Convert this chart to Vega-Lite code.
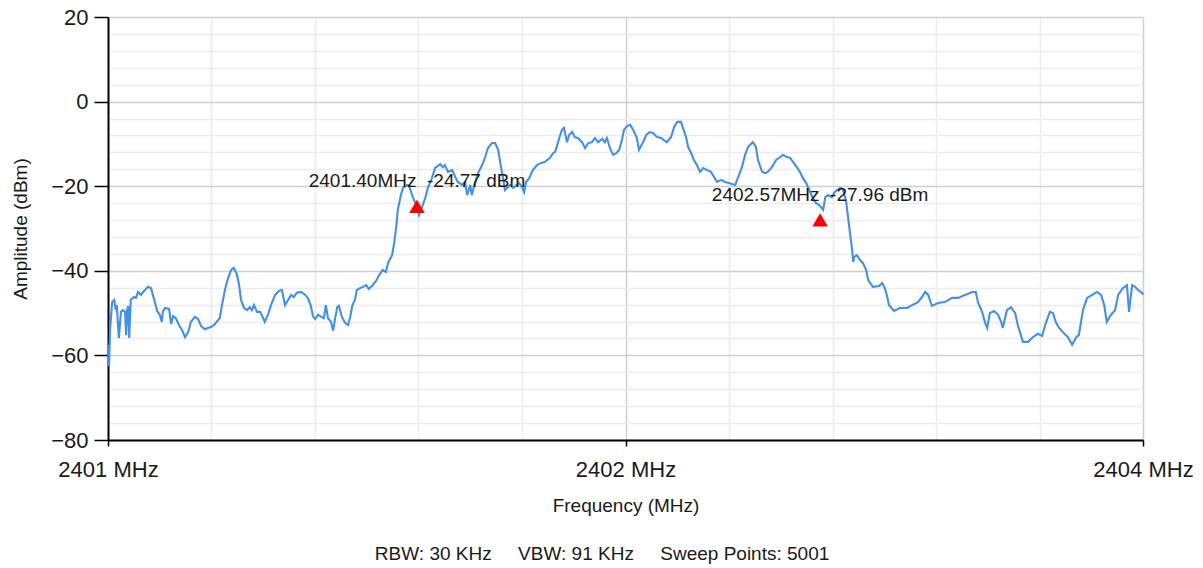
{
  "$schema": "https://vega.github.io/schema/vega-lite/v6.json",
  "width": 1035,
  "height": 423,
  "autosize": {"type": "none"},
  "padding": {"left": 108, "top": 17, "right": 60, "bottom": 128},
  "background": "white",
  "config": {
    "view": {"stroke": null},
    "font": "Liberation Sans"
  },
  "title": {
    "text": "RBW: 30 KHz\u00a0\u00a0\u00a0\u00a0\u00a0VBW: 91 KHz\u00a0\u00a0\u00a0\u00a0\u00a0Sweep Points: 5001",
    "orient": "bottom",
    "anchor": "middle",
    "frame": "bounds",
    "font": "Liberation Sans",
    "fontSize": 19,
    "fontWeight": "normal",
    "color": "#1a1a1a",
    "offset": 30
  },
  "datasets": {
    "trace": [
      {"f":2401.000,"a":-57.5},{"f":2401.002,"a":-62.5},{"f":2401.004,"a":-54.0},{"f":2401.008,"a":-47.4},{"f":2401.012,"a":-46.9},
      {"f":2401.015,"a":-49.3},{"f":2401.017,"a":-48.1},{"f":2401.021,"a":-55.9},{"f":2401.025,"a":-49.7},{"f":2401.029,"a":-49.3},
      {"f":2401.033,"a":-49.7},{"f":2401.035,"a":-55.2},{"f":2401.037,"a":-49.3},{"f":2401.039,"a":-48.3},{"f":2401.041,"a":-55.9},
      {"f":2401.044,"a":-46.9},{"f":2401.050,"a":-46.2},{"f":2401.054,"a":-46.4},{"f":2401.058,"a":-45.0},{"f":2401.064,"a":-45.7},
      {"f":2401.068,"a":-45.0},{"f":2401.072,"a":-44.5},{"f":2401.077,"a":-43.8},{"f":2401.083,"a":-44.1},{"f":2401.089,"a":-46.7},
      {"f":2401.095,"a":-49.5},{"f":2401.100,"a":-50.4},{"f":2401.104,"a":-52.1},{"f":2401.106,"a":-49.7},{"f":2401.110,"a":-48.8},
      {"f":2401.118,"a":-49.0},{"f":2401.122,"a":-52.6},{"f":2401.126,"a":-50.7},{"f":2401.131,"a":-51.2},{"f":2401.137,"a":-52.8},
      {"f":2401.143,"a":-54.0},{"f":2401.149,"a":-55.7},{"f":2401.155,"a":-54.5},{"f":2401.160,"a":-52.1},{"f":2401.168,"a":-50.9},
      {"f":2401.174,"a":-51.4},{"f":2401.180,"a":-53.1},{"f":2401.187,"a":-53.8},{"f":2401.193,"a":-53.5},{"f":2401.199,"a":-53.3},
      {"f":2401.205,"a":-52.8},{"f":2401.211,"a":-51.9},{"f":2401.216,"a":-51.2},{"f":2401.220,"a":-48.3},{"f":2401.226,"a":-44.5},
      {"f":2401.232,"a":-41.7},{"f":2401.238,"a":-39.8},{"f":2401.243,"a":-39.3},{"f":2401.249,"a":-40.8},{"f":2401.253,"a":-43.1},
      {"f":2401.257,"a":-46.9},{"f":2401.263,"a":-48.8},{"f":2401.269,"a":-49.3},{"f":2401.274,"a":-48.6},{"f":2401.278,"a":-49.3},
      {"f":2401.282,"a":-48.1},{"f":2401.288,"a":-49.7},{"f":2401.294,"a":-49.7},{"f":2401.298,"a":-50.7},{"f":2401.303,"a":-52.1},
      {"f":2401.309,"a":-50.4},{"f":2401.315,"a":-48.1},{"f":2401.323,"a":-45.7},{"f":2401.330,"a":-44.8},{"f":2401.336,"a":-44.5},
      {"f":2401.342,"a":-48.1},{"f":2401.348,"a":-46.9},{"f":2401.354,"a":-45.7},{"f":2401.359,"a":-46.2},{"f":2401.365,"a":-45.2},
      {"f":2401.373,"a":-45.0},{"f":2401.381,"a":-45.7},{"f":2401.386,"a":-46.4},{"f":2401.392,"a":-48.3},{"f":2401.396,"a":-50.7},
      {"f":2401.400,"a":-51.4},{"f":2401.406,"a":-50.4},{"f":2401.412,"a":-50.9},{"f":2401.417,"a":-51.2},{"f":2401.421,"a":-48.1},
      {"f":2401.425,"a":-51.2},{"f":2401.431,"a":-52.1},{"f":2401.435,"a":-54.2},{"f":2401.439,"a":-51.2},{"f":2401.443,"a":-48.6},
      {"f":2401.446,"a":-48.3},{"f":2401.452,"a":-50.9},{"f":2401.458,"a":-52.3},{"f":2401.464,"a":-52.8},{"f":2401.468,"a":-50.9},
      {"f":2401.472,"a":-48.3},{"f":2401.477,"a":-46.9},{"f":2401.481,"a":-44.5},{"f":2401.487,"a":-44.1},{"f":2401.493,"a":-43.8},
      {"f":2401.499,"a":-43.4},{"f":2401.504,"a":-44.3},{"f":2401.510,"a":-43.6},{"f":2401.518,"a":-42.4},{"f":2401.524,"a":-41.0},
      {"f":2401.531,"a":-39.8},{"f":2401.537,"a":-40.3},{"f":2401.541,"a":-38.2},{"f":2401.549,"a":-36.3},{"f":2401.553,"a":-33.4},
      {"f":2401.557,"a":-29.6},{"f":2401.560,"a":-25.6},{"f":2401.566,"a":-22.1},{"f":2401.570,"a":-20.4},{"f":2401.578,"a":-19.7},
      {"f":2401.582,"a":-20.0},{"f":2401.589,"a":-22.6},{"f":2401.597,"a":-24.9},{"f":2401.601,"a":-26.8},{"f":2401.607,"a":-24.9},
      {"f":2401.613,"a":-22.8},{"f":2401.618,"a":-20.4},{"f":2401.626,"a":-18.1},{"f":2401.632,"a":-15.7},{"f":2401.642,"a":-14.8},
      {"f":2401.647,"a":-15.5},{"f":2401.651,"a":-15.0},{"f":2401.657,"a":-16.6},{"f":2401.665,"a":-16.2},{"f":2401.671,"a":-17.8},
      {"f":2401.676,"a":-19.0},{"f":2401.684,"a":-19.7},{"f":2401.690,"a":-19.0},{"f":2401.694,"a":-22.1},{"f":2401.700,"a":-19.7},
      {"f":2401.703,"a":-22.1},{"f":2401.709,"a":-19.2},{"f":2401.715,"a":-16.9},{"f":2401.723,"a":-15.0},{"f":2401.729,"a":-13.1},
      {"f":2401.734,"a":-11.0},{"f":2401.742,"a":-9.8},{"f":2401.748,"a":-9.8},{"f":2401.754,"a":-11.4},{"f":2401.758,"a":-14.5},
      {"f":2401.763,"a":-17.8},{"f":2401.767,"a":-20.9},{"f":2401.773,"a":-20.2},{"f":2401.777,"a":-19.7},{"f":2401.783,"a":-20.4},
      {"f":2401.790,"a":-19.7},{"f":2401.794,"a":-19.2},{"f":2401.800,"a":-20.2},{"f":2401.804,"a":-21.4},{"f":2401.808,"a":-19.0},
      {"f":2401.814,"a":-18.1},{"f":2401.821,"a":-16.2},{"f":2401.829,"a":-15.0},{"f":2401.837,"a":-14.5},{"f":2401.844,"a":-14.3},
      {"f":2401.854,"a":-13.3},{"f":2401.860,"a":-12.2},{"f":2401.864,"a":-11.9},{"f":2401.868,"a":-10.3},{"f":2401.872,"a":-8.6},
      {"f":2401.877,"a":-6.7},{"f":2401.881,"a":-6.2},{"f":2401.887,"a":-9.6},{"f":2401.891,"a":-7.9},{"f":2401.897,"a":-7.2},
      {"f":2401.902,"a":-8.4},{"f":2401.908,"a":-8.6},{"f":2401.916,"a":-9.6},{"f":2401.922,"a":-11.0},{"f":2401.928,"a":-9.8},
      {"f":2401.935,"a":-9.6},{"f":2401.941,"a":-8.6},{"f":2401.947,"a":-9.6},{"f":2401.955,"a":-8.8},{"f":2401.960,"a":-9.6},
      {"f":2401.964,"a":-8.6},{"f":2401.970,"a":-11.0},{"f":2401.976,"a":-12.6},{"f":2401.982,"a":-12.2},{"f":2401.988,"a":-11.4},
      {"f":2401.993,"a":-9.1},{"f":2401.997,"a":-6.7},{"f":2402.003,"a":-5.8},{"f":2402.009,"a":-5.5},{"f":2402.015,"a":-6.7},
      {"f":2402.022,"a":-8.6},{"f":2402.026,"a":-11.4},{"f":2402.034,"a":-9.6},{"f":2402.040,"a":-7.9},{"f":2402.047,"a":-7.2},
      {"f":2402.053,"a":-7.4},{"f":2402.061,"a":-8.4},{"f":2402.069,"a":-8.6},{"f":2402.074,"a":-9.1},{"f":2402.080,"a":-9.6},
      {"f":2402.088,"a":-8.4},{"f":2402.094,"a":-6.0},{"f":2402.100,"a":-4.8},{"f":2402.107,"a":-4.8},{"f":2402.111,"a":-6.2},
      {"f":2402.117,"a":-8.4},{"f":2402.121,"a":-10.7},{"f":2402.127,"a":-12.2},{"f":2402.132,"a":-13.8},{"f":2402.138,"a":-15.0},
      {"f":2402.144,"a":-16.6},{"f":2402.150,"a":-15.7},{"f":2402.158,"a":-16.2},{"f":2402.165,"a":-16.6},{"f":2402.171,"a":-17.8},
      {"f":2402.177,"a":-19.0},{"f":2402.185,"a":-18.5},{"f":2402.192,"a":-19.0},{"f":2402.198,"a":-19.2},{"f":2402.206,"a":-19.5},
      {"f":2402.212,"a":-19.7},{"f":2402.217,"a":-18.1},{"f":2402.225,"a":-15.5},{"f":2402.231,"a":-12.6},{"f":2402.237,"a":-10.7},
      {"f":2402.246,"a":-9.6},{"f":2402.252,"a":-10.7},{"f":2402.256,"a":-13.8},{"f":2402.264,"a":-16.6},{"f":2402.270,"a":-16.9},
      {"f":2402.275,"a":-16.6},{"f":2402.283,"a":-15.5},{"f":2402.291,"a":-13.8},{"f":2402.299,"a":-13.1},{"f":2402.304,"a":-12.6},
      {"f":2402.312,"a":-13.1},{"f":2402.318,"a":-13.3},{"f":2402.324,"a":-14.3},{"f":2402.331,"a":-15.5},{"f":2402.337,"a":-16.6},
      {"f":2402.343,"a":-18.1},{"f":2402.349,"a":-19.2},{"f":2402.355,"a":-20.9},{"f":2402.362,"a":-22.8},{"f":2402.368,"a":-24.0},
      {"f":2402.374,"a":-24.4},{"f":2402.382,"a":-25.6},{"f":2402.386,"a":-22.6},{"f":2402.391,"a":-22.1},{"f":2402.399,"a":-22.6},
      {"f":2402.403,"a":-21.6},{"f":2402.409,"a":-20.9},{"f":2402.415,"a":-20.4},{"f":2402.420,"a":-20.7},{"f":2402.426,"a":-23.3},
      {"f":2402.430,"a":-27.3},{"f":2402.434,"a":-31.3},{"f":2402.438,"a":-35.1},{"f":2402.440,"a":-37.9},{"f":2402.442,"a":-36.7},
      {"f":2402.447,"a":-36.3},{"f":2402.453,"a":-37.4},{"f":2402.459,"a":-38.2},{"f":2402.465,"a":-39.8},{"f":2402.469,"a":-42.2},
      {"f":2402.478,"a":-43.8},{"f":2402.490,"a":-43.6},{"f":2402.496,"a":-42.9},{"f":2402.501,"a":-44.1},{"f":2402.505,"a":-45.7},
      {"f":2402.509,"a":-48.1},{"f":2402.519,"a":-49.5},{"f":2402.530,"a":-48.8},{"f":2402.544,"a":-48.8},{"f":2402.554,"a":-48.1},
      {"f":2402.565,"a":-47.4},{"f":2402.573,"a":-46.2},{"f":2402.579,"a":-45.0},{"f":2402.585,"a":-45.7},{"f":2402.592,"a":-48.3},
      {"f":2402.604,"a":-47.6},{"f":2402.617,"a":-47.4},{"f":2402.631,"a":-46.4},{"f":2402.643,"a":-46.4},{"f":2402.656,"a":-45.7},
      {"f":2402.670,"a":-45.0},{"f":2402.677,"a":-45.0},{"f":2402.681,"a":-47.4},{"f":2402.689,"a":-49.7},{"f":2402.695,"a":-52.3},
      {"f":2402.699,"a":-53.5},{"f":2402.704,"a":-50.0},{"f":2402.712,"a":-49.5},{"f":2402.720,"a":-50.4},{"f":2402.726,"a":-52.1},
      {"f":2402.729,"a":-53.5},{"f":2402.737,"a":-49.3},{"f":2402.745,"a":-48.6},{"f":2402.753,"a":-50.0},{"f":2402.758,"a":-52.8},
      {"f":2402.768,"a":-56.8},{"f":2402.778,"a":-56.8},{"f":2402.787,"a":-55.7},{"f":2402.797,"a":-54.9},{"f":2402.805,"a":-55.4},
      {"f":2402.811,"a":-52.8},{"f":2402.820,"a":-49.7},{"f":2402.826,"a":-50.0},{"f":2402.832,"a":-52.3},{"f":2402.838,"a":-53.5},
      {"f":2402.845,"a":-54.5},{"f":2402.855,"a":-55.7},{"f":2402.863,"a":-57.5},{"f":2402.871,"a":-55.7},{"f":2402.876,"a":-55.2},
      {"f":2402.884,"a":-49.3},{"f":2402.892,"a":-46.4},{"f":2402.902,"a":-45.7},{"f":2402.911,"a":-45.0},{"f":2402.919,"a":-45.7},
      {"f":2402.925,"a":-48.1},{"f":2402.930,"a":-52.1},{"f":2402.938,"a":-50.4},{"f":2402.946,"a":-49.3},{"f":2402.952,"a":-45.7},
      {"f":2402.961,"a":-44.1},{"f":2402.969,"a":-43.4},{"f":2402.973,"a":-49.7},{"f":2402.979,"a":-43.4},{"f":2402.985,"a":-43.8},
      {"f":2402.990,"a":-44.5},{"f":2402.998,"a":-45.2},{"f":2403.000,"a":-45.7}
    ],
    "markers": [
      {"f": 2401.597, "a": -24.77, "label": "2401.40MHz\u00a0\u00a0-24.77 dBm"},
      {"f": 2402.376, "a": -27.96, "label": "2402.57MHz\u00a0\u00a0-27.96 dBm"}
    ]
  },
  "encoding": {
    "x": {
      "field": "f",
      "type": "quantitative",
      "scale": {"domain": [2401, 2403], "nice": false, "zero": false},
      "axis": {
        "title": "Frequency (MHz)",
        "values": [2401, 2401.2, 2401.4, 2401.6, 2401.8, 2402, 2402.2, 2402.4, 2402.6, 2402.8, 2403],
        "labelExpr": "abs(datum.value-2401)<0.01 ? '2401 MHz' : abs(datum.value-2402)<0.01 ? '2402 MHz' : abs(datum.value-2403)<0.01 ? '2404 MHz' : ''",
        "labelOverlap": false,
        "labelFlush": false,
        "labelFont": "Liberation Sans",
        "labelFontSize": 22,
        "labelColor": "#1a1a1a",
        "labelBaseline": "alphabetic",
        "labelPadding": 30,
        "tickSize": 6,
        "tickWidth": 1.5,
        "tickColor": "#000000",
        "tickOpacity": {"condition": {"test": "abs(datum.value-2401)<0.01 || abs(datum.value-2402)<0.01 || abs(datum.value-2403)<0.01", "value": 1}, "value": 0},
        "domainColor": "#000000",
        "domainWidth": 2,
        "grid": true,
        "gridColor": {"condition": {"test": "abs(datum.value-2402)<0.01 || abs(datum.value-2403)<0.01", "value": "#cfcfcf"}, "value": "#ececec"},
        "gridWidth": 1.5,
        "titleFont": "Liberation Sans",
        "titleFontSize": 19,
        "titleFontWeight": "normal",
        "titleColor": "#1a1a1a",
        "titleBaseline": "alphabetic",
        "titleX": 517.5,
        "titleY": 71
      }
    },
    "y": {
      "field": "a",
      "type": "quantitative",
      "scale": {"domain": [-80, 20], "nice": false, "zero": false},
      "axis": {
        "title": "Amplitude (dBm)",
        "values": [-80,-76,-72,-68,-64,-60,-56,-52,-48,-44,-40,-36,-32,-28,-24,-20,-16,-12,-8,-4,0,4,8,12,16,20],
        "labelExpr": "datum.value % 20 == 0 ? datum.label : ''",
        "labelOverlap": false,
        "labelFont": "Liberation Sans",
        "labelFontSize": 22,
        "labelColor": "#1a1a1a",
        "labelPadding": 6,
        "tickSize": 14,
        "tickWidth": 1.5,
        "tickColor": "#000000",
        "tickOpacity": {"condition": {"test": "datum.value % 20 == 0", "value": 1}, "value": 0},
        "domainColor": "#000000",
        "domainWidth": 2,
        "grid": true,
        "gridColor": {"condition": {"test": "datum.value % 20 == 0", "value": "#cfcfcf"}, "value": "#ececec"},
        "gridWidth": 1.5,
        "titleFont": "Liberation Sans",
        "titleFontSize": 19,
        "titleFontWeight": "normal",
        "titleColor": "#1a1a1a",
        "titleX": -78,
        "titleY": 211.5
      }
    }
  },
  "layer": [
    {
      "data": {"name": "trace"},
      "mark": {"type": "line", "color": "#4290ea", "strokeWidth": 2.1, "interpolate": "linear"}
    },
    {
      "data": {"name": "markers"},
      "mark": {"type": "point", "shape": "triangle-up", "filled": true, "color": "#ff0000", "opacity": 1, "size": 240}
    },
    {
      "data": {"name": "markers"},
      "mark": {"type": "text", "font": "Liberation Sans", "fontSize": 19, "color": "#1a1a1a", "align": "center", "baseline": "alphabetic", "dy": -19},
      "encoding": {"text": {"field": "label"}}
    }
  ]
}
